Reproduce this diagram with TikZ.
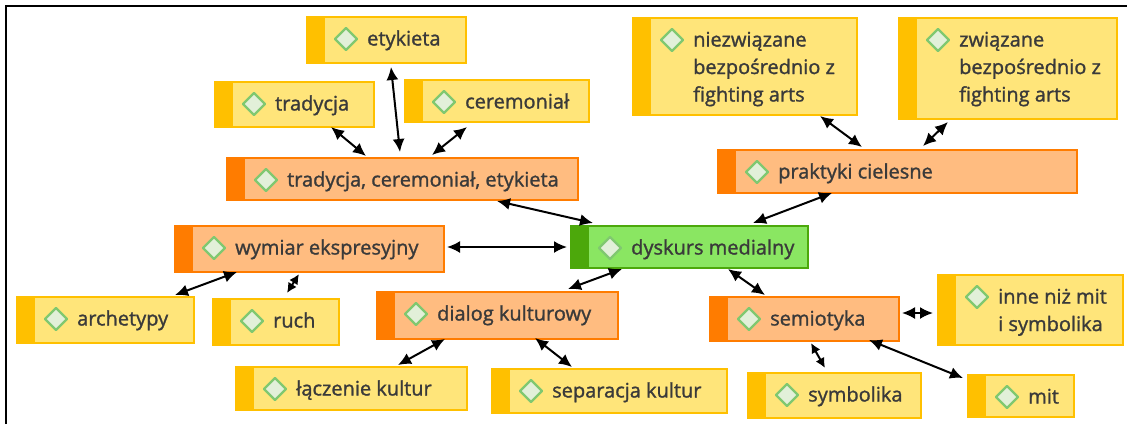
\documentclass[tikz,border=0pt]{standalone}
\usepackage{fontspec}
\setmainfont{Open Sans}
\newfontfamily\nodefont{Open Sans}[FakeBold=1.3]
\usetikzlibrary{arrows.meta}
\definecolor{ystripe}{HTML}{FFC000}
\definecolor{yfill}{HTML}{FFE57A}
\definecolor{ostripe}{HTML}{FF7C00}
\definecolor{ofill}{HTML}{FFBC80}
\definecolor{gstripe}{HTML}{4CA80B}
\definecolor{gfill}{HTML}{8AE662}
\definecolor{diafill}{HTML}{E2F0D9}
\definecolor{diadraw}{HTML}{80C870}
\definecolor{txtcol}{HTML}{3A3A3A}
\tikzset{
  stripebox/.style={draw=#1stripe, fill=#1fill, line width=1.5pt, inner sep=0pt,
    path picture={\fill[#1stripe] (path picture bounding box.north west) rectangle ([xshift=18pt]path picture bounding box.south west);}},
  dia/.style={fill=diafill, draw=diadraw, line width=2.2pt, line join=round},
  txt/.style={text=txtcol, font=\nodefont\fontsize{20}{27.5}\selectfont, inner sep=0pt, align=left},
  bi/.style={line width=2pt, {Latex[length=13pt,width=12pt]}-{Latex[length=13pt,width=12pt]}},
  bis/.style={line width=2pt, {Latex[length=10pt,width=10pt]}-{Latex[length=10pt,width=10pt]}},
  frame/.style={line width=2pt, draw=black}
}
% name, x1, y1, x2, y2, colour, text, number of lines
\newcommand\mknode[8]{%
  \node[stripebox=#6, anchor=north west, minimum width={#4-#2}, minimum height={#5-#3}] (#1) at (#2,#3) {};
  \draw[dia] ([shift={(40,23)}]#1.north west) +(0,-11) -- +(11,0) -- +(0,11) -- +(-11,0) -- cycle;
  \node[txt, anchor=base west] (#1-t) at ([shift={(61,{29.5+(#8-1)*27.5})}]#1.north west) {#7};
}
\begin{document}
\begin{tikzpicture}[x=1pt,y=-1pt]
\useasboundingbox (0,0) rectangle (1127,424);
\coordinate (fa) at (6,424);
\coordinate (fb) at (6,6);
\coordinate (fc) at (1127,6);
\draw[frame] (fa) -- (fb) -- (fc);

\mknode{etk}{306}{16}{465}{62}{y}{etykieta}{1}
\mknode{trad}{214}{81}{373}{126}{y}{tradycja}{1}
\mknode{cer}{404}{79}{588}{121}{y}{ceremoniał}{1}
\mknode{tce}{226}{157}{577}{199}{o}{tradycja, ceremoniał, etykieta}{1}
\mknode{niez}{632}{17}{856}{114}{y}{niezwiązane\\bezpośrednio z\\fighting arts}{3}
\mknode{zwi}{898}{17}{1116}{118}{y}{związane\\bezpośrednio z\\fighting arts}{3}
\mknode{prak}{717}{149}{1076}{192}{o}{praktyki cielesne}{1}
\mknode{wym}{174}{225}{443}{271}{o}{wymiar ekspresyjny}{1}
\mknode{arch}{16}{296}{193}{342}{y}{archetypy}{1}
\mknode{ruch}{212}{298}{338}{344}{y}{ruch}{1}
\mknode{dial}{376}{291}{617}{338}{o}{dialog kulturowy}{1}
\mknode{dysk}{570}{225}{807}{267}{g}{dyskurs medialny}{1}
\mknode{lacz}{235}{366}{466}{409}{y}{łączenie kultur}{1}
\mknode{sep}{491}{368}{726}{412}{y}{separacja kultur}{1}
\mknode{sem}{709}{296}{898}{340}{o}{semiotyka}{1}
\mknode{inne}{937}{274}{1122}{344}{y}{inne niż mit\\i symbolika}{2}
\mknode{sym}{747}{372}{920}{417}{y}{symbolika}{1}
\mknode{mit}{967}{374}{1073}{416}{y}{mit}{1}

\draw[bi] ([shift={(85,51)}]etk.north west) -- ([shift={(174,-5)}]tce.north west);
\draw[bi] ([shift={(117,46)}]trad.north west) -- ([shift={(140,-1)}]tce.north west);
\draw[bi] ([shift={(63,48)}]cer.north west) -- ([shift={(206,-2)}]tce.north west);
\draw[bi] ([shift={(271,44)}]tce.north west) -- ([shift={(23,-2)}]dysk.north west);
\draw[bi] ([shift={(115,44)}]prak.north west) -- ([shift={(183,-2)}]dysk.north west);
\draw[bi] ([shift={(188,99)}]niez.north west) -- ([shift={(145,-2)}]prak.north west);
\draw[bi] ([shift={(50,105)}]zwi.north west) -- ([shift={(206,-3)}]prak.north west);
\draw[bi] ([shift={(273,22)}]wym.north west) -- ([shift={(-3,22)}]dysk.north west);
\draw[bi] ([shift={(63,47)}]wym.north west) -- ([shift={(159,-1)}]arch.north west);
\draw[bis] ([shift={(125,49)}]wym.north west) -- ([shift={(75,-5)}]ruch.north west);
\draw[bi] ([shift={(52,44)}]dysk.north west) -- ([shift={(192,-2)}]dial.north west);
\draw[bi] ([shift={(158,44)}]dysk.north west) -- ([shift={(56,-1)}]sem.north west);
\draw[bi] ([shift={(69,48)}]dial.north west) -- ([shift={(163,-1)}]lacz.north west);
\draw[bi] ([shift={(159,47)}]dial.north west) -- ([shift={(81,-1)}]sep.north west);
\draw[bi] ([shift={(193,17)}]sem.north west) -- ([shift={(-4,39)}]inne.north west);
\draw[bis] ([shift={(102,47)}]sem.north west) -- ([shift={(78,-4)}]sym.north west);
\draw[bi] ([shift={(160,44)}]sem.north west) -- ([shift={(-4,4)}]mit.north west);
\end{tikzpicture}
\end{document}
